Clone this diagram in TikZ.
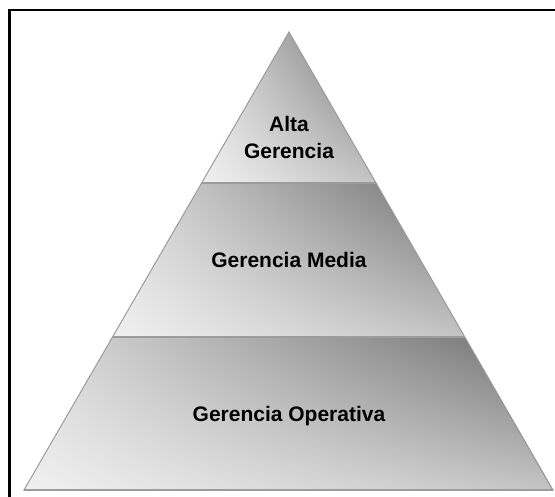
\documentclass[tikz,border=0pt]{standalone}
\usepackage{fontspec}
\setmainfont{Liberation Sans}
\usepackage{xcolor}
\usetikzlibrary{calc,fadings}

\definecolor{tierlight}{HTML}{DCDCDC}
\definecolor{tierdark}{HTML}{6E6E6E}
\definecolor{tieredge}{HTML}{9C9C9C}
% lighter towards the foot of every tier
\tikzfading[name=tierfade, top color=transparent!100, middle color=transparent!100, bottom color=transparent!40]
\tikzset{
  tier/.style={left color=tierlight, right color=tierdark},
  tierglow/.style={fill=white, path fading=tierfade},
  level/.style={font=\bfseries\fontsize{21}{27}\selectfont, align=center, inner sep=0pt}
}

\begin{document}
\begin{tikzpicture}[x=1pt,y=-1pt]
  \useasboundingbox (0,0) rectangle (555,497);
  \clip (0,0) rectangle (555,497);
  \fill[white] (0,0) rectangle (555,497);
  \coordinate (apex) at (289,32);
  \coordinate (bl) at (24,490);
  \coordinate (br) at (553,490);
  \coordinate (l1) at ($(apex)!0.33!(bl)$);
  \coordinate (r1) at ($(apex)!0.33!(br)$);
  \coordinate (l2) at ($(apex)!0.666!(bl)$);
  \coordinate (r2) at ($(apex)!0.666!(br)$);
  % three tiers
  \shade[tier] (apex) -- (r1) -- (l1) -- cycle;
  \fill[tierglow] (apex) -- (r1) -- (l1) -- cycle;
  \shade[tier] (l1) -- (r1) -- (r2) -- (l2) -- cycle;
  \fill[tierglow] (l1) -- (r1) -- (r2) -- (l2) -- cycle;
  \shade[tier] (l2) -- (r2) -- (br) -- (bl) -- cycle;
  \fill[tierglow] (l2) -- (r2) -- (br) -- (bl) -- cycle;
  \draw[tieredge, line width=1pt] (apex) -- (br) -- (bl) -- cycle;
  \draw[tieredge, line width=1.4pt] (l1) -- (r1) (l2) -- (r2);
  \draw[tieredge, line width=1.6pt] (bl) -- (br);
  \node[level] (alta) at (289,137) {Alta\\Gerencia};
  \node[level, anchor=base] (media) at (289,268) {Gerencia Media};
  \node[level, anchor=base] (operativa) at (289,422) {Gerencia Operativa};
  % frame
  \draw[line width=2.7pt] (9.6,520) -- (9.6,10) -- (580,10);
\end{tikzpicture}
\end{document}
